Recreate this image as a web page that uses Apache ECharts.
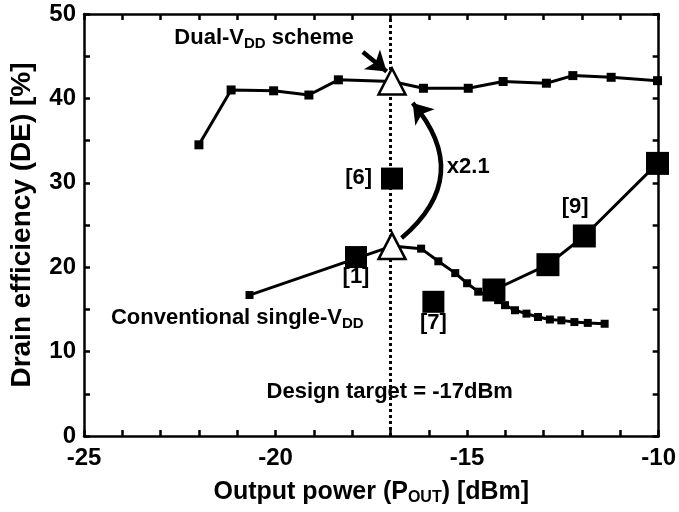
<!DOCTYPE html>
<html><head><meta charset="utf-8">
<script src="https://cdn.jsdelivr.net/npm/echarts@6/dist/echarts.min.js"></script>
<style>html,body{margin:0;padding:0;background:#fff}#c{width:679px;height:512px}</style>
</head><body><div id="c"></div>
<script>
// ---- data ----
const dualX = [-22, -21.16, -20.05, -19.13, -18.36, -16.96, -16.14, -14.97, -14.06, -12.93, -12.24, -11.24, -10.03];
const dualY = [34.5, 41.0, 40.9, 40.4, 42.2, 42.0, 41.2, 41.2, 42.0, 41.8, 42.7, 42.5, 42.1];
const convX = [-20.68, -16.96, -16.2, -15.75, -15.31, -15.0, -14.71, -14.4, -14.19, -14.01, -13.75, -13.45, -13.15, -12.84, -12.54, -12.2, -11.85, -11.41];
const convY = [16.7, 22.5, 22.2, 20.7, 19.3, 18.1, 17.1, 16.5, 16.1, 15.5, 14.9, 14.5, 14.1, 13.8, 13.7, 13.5, 13.4, 13.3];
const ref9X = [-14.3, -12.89, -11.94, -10.03];
const ref9Y = [17.3, 20.3, 23.7, 32.3];
const refSingleX = [-17.9, -16.96, -15.88];   // [1], [6], [7]
const refSingleY = [21.2, 30.5, 15.9];
const targetX = [-17, -17];
const targetY = [0, 50];
const triX = [-16.96, -16.96];
const triY = [42.0, 22.5];
const labelText = ['{t|Dual-V}{s|DD}{t| scheme}', '{t|[6]}', '{t|x2.1}', '{t|[1]}', '{t|[7]}', '{t|[9]}', '{t|Conventional single-V}{s|DD}', '{t|Design target = -17dBm}'];
const labelX = [-20.3, -17.83, -14.97, -17.9, -15.88, -12.18, -21.0, -17.02];
const labelY = [47.16, 30.57, 31.87, 18.84, 13.39, 27.13, 13.98, 5.21];
const xMin = -25, xMax = -10, xStep = 5;
const yMin = 0, yMax = 50, yStep = 10;

const FONT = "'Liberation Sans', Arial, sans-serif";
const zip = (a, b) => a.map((v, i) => [v, b[i]]);

const chart = echarts.init(document.getElementById('c'));
const axisCommon = {
  axisLine: {show: true, onZero: false, lineStyle: {color: '#000', width: 2.5}},
  axisTick: {show: true, inside: true, length: 6, lineStyle: {color: '#000', width: 2.5}},
  splitLine: {show: false}
};
const rich = {
  t: {fontSize: 22, fontWeight: 'bold', fontFamily: FONT, color: '#000', lineHeight: 26, verticalAlign: 'middle'},
  s: {fontSize: 15, fontWeight: 'bold', fontFamily: FONT, color: '#000', lineHeight: 15, verticalAlign: 'bottom', padding: [11, 0, 0, 0]}
};
chart.setOption({
  animation: false,
  backgroundColor: '#fff',
  grid: {left: 84, right: 18, top: 14, bottom: 76, containLabel: false},
  xAxis: [
    Object.assign({type: 'value', position: 'bottom', min: xMin, max: xMax, interval: xStep,
      minorTick: {show: true, splitNumber: 5, length: 6, lineStyle: {color: '#000', width: 2.5}},
      axisLabel: {color: '#000', fontSize: 24, fontWeight: 'bold', fontFamily: FONT, margin: 10},
      name: '{a|Output power (P}{b|OUT}{a|) [dBm]}', nameLocation: 'middle', nameGap: 42,
      nameTextStyle: {rich: {
        a: {fontSize: 25, fontWeight: 'bold', fontFamily: FONT, color: '#000', lineHeight: 28, verticalAlign: 'middle'},
        b: {fontSize: 16, fontWeight: 'bold', fontFamily: FONT, color: '#000', lineHeight: 16, verticalAlign: 'bottom', padding: [12, 0, 0, 0]}
      }}
    }, axisCommon),
    Object.assign({type: 'value', position: 'top', min: xMin, max: xMax, interval: xStep,
      minorTick: {show: true, splitNumber: 5, length: 6, lineStyle: {color: '#000', width: 2.5}},
      axisLabel: {show: false}}, axisCommon)
  ],
  yAxis: [
    Object.assign({type: 'value', position: 'left', min: yMin, max: yMax, interval: yStep,
      minorTick: {show: true, splitNumber: 2, length: 6, lineStyle: {color: '#000', width: 2.5}},
      axisLabel: {color: '#000', fontSize: 24, fontWeight: 'bold', fontFamily: FONT, margin: 8},
      name: 'Drain efficiency (DE) [%]', nameLocation: 'middle', nameGap: 48, nameRotate: 90,
      nameTextStyle: {color: '#000', fontSize: 28, fontWeight: 'bold', fontFamily: FONT}
    }, axisCommon),
    Object.assign({type: 'value', position: 'right', min: yMin, max: yMax, interval: yStep,
      minorTick: {show: true, splitNumber: 2, length: 6, lineStyle: {color: '#000', width: 2.5}},
      axisLabel: {show: false}}, axisCommon)
  ],
  series: [
    {type: 'line', data: zip(targetX, targetY), symbol: 'none', z: 1,
      lineStyle: {color: '#000', width: 3, type: [3, 3]}},
    {type: 'line', data: zip(dualX, dualY), symbol: 'rect', symbolSize: 9, z: 3,
      itemStyle: {color: '#000', opacity: 1}, lineStyle: {color: '#000', width: 3}},
    {type: 'line', data: zip(convX, convY), symbol: 'rect', symbolSize: 8, z: 3,
      itemStyle: {color: '#000', opacity: 1}, lineStyle: {color: '#000', width: 3}},
    {type: 'line', data: zip(ref9X, ref9Y), symbol: 'rect', symbolSize: 23, z: 4, clip: false,
      itemStyle: {color: '#000', opacity: 1}, lineStyle: {color: '#000', width: 3}},
    {type: 'scatter', data: zip(refSingleX, refSingleY), symbol: 'rect', symbolSize: 22, z: 4,
      itemStyle: {color: '#000', opacity: 1}},
    {type: 'scatter', data: zip(triX, triY), symbol: 'triangle', symbolSize: [27, 26], z: 6,
      itemStyle: {color: '#fff', borderColor: '#000', borderWidth: 2.5, opacity: 1}},
    {type: 'lines', coordinateSystem: 'cartesian2d', z: 5, symbol: ['none', 'arrow'], symbolSize: 19,
      lineStyle: {color: '#000', width: 4.5, opacity: 1},
      data: [
        {coords: [[-17.72, 45.5], [-17.1, 43.2]], lineStyle: {curveness: 0}},
        {coords: [[-16.71, 23.46], [-16.42, 39.45]], lineStyle: {curveness: -0.5}}
      ]},
    {type: 'scatter', symbolSize: 0, z: 7,
      itemStyle: {opacity: 1},
      data: labelText.map((t, i) => ({value: [labelX[i], labelY[i]], label: {formatter: t}})),
      label: {show: true, position: 'inside', color: '#000', opacity: 1, rich: rich}}
  ]
});
</script></body></html>
